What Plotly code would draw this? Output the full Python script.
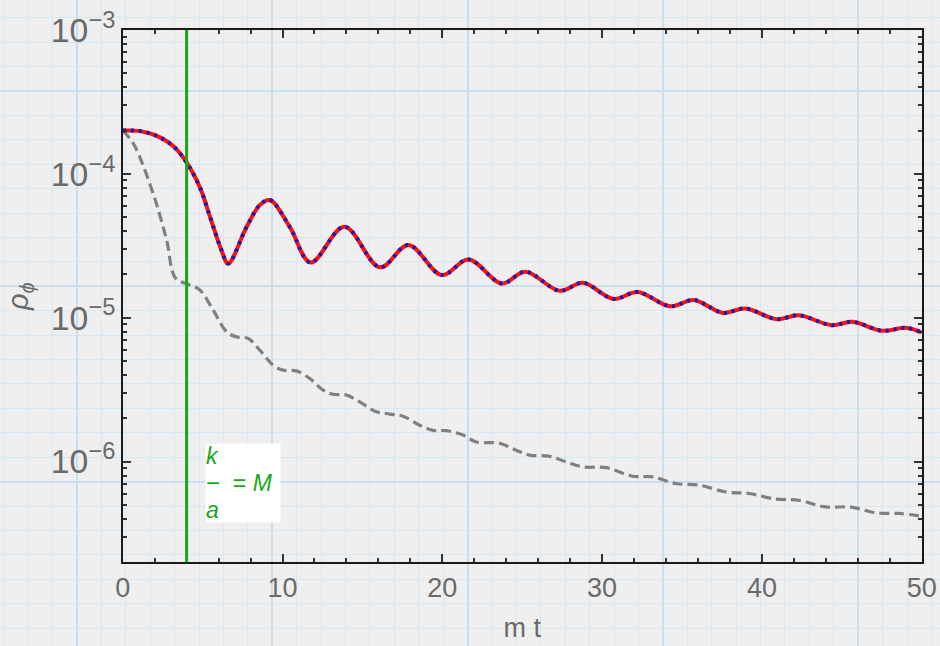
import plotly.graph_objects as go

# Energy density of the field vs. time (m t); full solution
t_full = [0.0, 1.0, 1.7, 2.3, 3.16, 4.0, 4.85, 5.45, 6.18, 6.6, 7.75, 8.58, 9.21,
          10.46, 11.76, 13.87, 16.1, 17.88, 19.97, 21.64, 23.73, 25.19, 27.34,
          28.8, 30.72, 32.22, 34.27, 35.73, 37.57, 38.97, 40.91, 42.31, 44.36,
          45.66, 47.54, 49.0, 50.0]
rho_full = [2.0e-4, 1.99e-4, 1.91e-4, 1.80e-4, 1.56e-4, 1.20e-4, 7.96e-5, 5.09e-5,
            2.95e-5, 2.38e-5, 4.27e-5, 6.07e-5, 6.58e-5, 4.27e-5, 2.42e-5, 4.29e-5,
            2.24e-5, 3.20e-5, 1.98e-5, 2.54e-5, 1.73e-5, 2.09e-5, 1.54e-5, 1.75e-5,
            1.35e-5, 1.51e-5, 1.20e-5, 1.33e-5, 1.08e-5, 1.16e-5, 9.78e-6, 1.04e-5,
            8.88e-6, 9.37e-6, 8.11e-6, 8.51e-6, 7.90e-6]

# Comparison curve (dashed gray)
t_cmp = [0.0, 0.66, 1.9, 2.75, 3.3, 4.2, 4.83, 5.66, 6.5, 7.12, 7.85, 8.58, 9.42,
         10.04, 10.87, 11.71, 12.54, 13.16, 14.0, 14.83, 15.87, 16.71, 17.54,
         18.58, 19.41, 20.25, 21.29, 22.12, 23.58, 24.62, 25.46, 26.71, 27.75,
         28.79, 30.25, 31.91, 33.16, 34.6, 36.1, 37.75, 39.2, 40.87, 42.3, 43.97,
         45.6, 47.1, 48.6, 50.0]
rho_cmp = [2.0e-4, 1.63e-4, 7.32e-5, 3.46e-5, 1.89e-5, 1.69e-5, 1.56e-5, 1.13e-5,
           7.98e-6, 7.36e-6, 7.18e-6, 5.95e-6, 4.68e-6, 4.32e-6, 4.27e-6, 3.78e-6,
           3.14e-6, 2.94e-6, 2.90e-6, 2.60e-6, 2.22e-6, 2.14e-6, 2.07e-6, 1.79e-6,
           1.65e-6, 1.64e-6, 1.53e-6, 1.37e-6, 1.34e-6, 1.20e-6, 1.11e-6, 1.09e-6,
           9.95e-7, 9.19e-7, 9.07e-7, 7.91e-7, 7.83e-7, 7.04e-7, 6.85e-7, 6.15e-7,
           6.00e-7, 5.48e-7, 5.39e-7, 4.84e-7, 4.83e-7, 4.40e-7, 4.36e-7, 4.17e-7]

K_OVER_A = 4.0          # time at which k/a = M
X_RANGE = [0, 50]
Y_RANGE_LOG = [-6.70, -3.0]

W, H = 940, 646
FONT = "Liberation Sans, Arial, sans-serif"
LABEL_GRAY = "#6a6a6a"
GREEN = "#17a817"

fig = go.Figure()

# empty trace so the full-figure graph-paper axes get drawn
fig.add_trace(go.Scatter(x=[], y=[], xaxis="x", yaxis="y",
                         hoverinfo="skip", showlegend=False))

# dashed gray comparison curve
fig.add_trace(go.Scatter(
    x=t_cmp, y=rho_cmp, mode="lines", line_shape="spline",
    line=dict(color="#808080", width=3.2, dash="10px,5px"),
    xaxis="x2", yaxis="y2", hoverinfo="skip", showlegend=False))

# full solution: red line with blue dots on top
fig.add_trace(go.Scatter(
    x=t_full, y=rho_full, mode="lines", line_shape="spline",
    line=dict(color="#ff1010", width=4),
    xaxis="x2", yaxis="y2", hoverinfo="skip", showlegend=False))
fig.add_trace(go.Scatter(
    x=t_full, y=rho_full, mode="lines", line_shape="spline",
    line=dict(color="#1a1ab0", width=4, dash="3px,5px"),
    xaxis="x2", yaxis="y2", hoverinfo="skip", showlegend=False))

# vertical marker at k/a = M
fig.add_shape(type="line", xref="x2", yref="y2 domain",
              x0=K_OVER_A, x1=K_OVER_A, y0=0, y1=1,
              line=dict(color=GREEN, width=3), layer="above")

# label box "k/a = M" written as a stacked fraction
big = '<span style="font-size:23px">'
bar = '<span style="font-size:24px">−</span>'
fig.add_annotation(xref="x2", yref="y2", x=K_OVER_A, y=Y_RANGE_LOG[0] + 0.55,
                   xanchor="left", yanchor="middle", xshift=18,
                   text=(big + "<i>k</i></span><br>"
                         + bar + big + "  = <i>M</i></span><br>"
                         + big + "<i>a</i></span>"),
                   align="left", valign="middle", width=74, height=78,
                   bgcolor="white", borderpad=0,
                   font=dict(family=FONT, size=21, color=GREEN),
                   showarrow=False)

# graph-paper backdrop: full-figure axes in pixel units
SQ = 195.3
paper_axis = dict(domain=[0, 1], showticklabels=False, zeroline=False,
                  ticks="", showline=False, fixedrange=True, automargin=False,
                  showgrid=True, gridcolor="#c9dfee", gridwidth=2, dtick=SQ)
fig.update_layout(
    xaxis=dict(paper_axis, range=[0, W], tick0=77,
               minor=dict(tick0=77, dtick=SQ / 8, showgrid=True,
                          gridcolor="#d8e8f2", gridwidth=1)),
    yaxis=dict(paper_axis, range=[H, 0], tick0=91,
               minor=dict(tick0=91, dtick=SQ / 8, showgrid=True,
                          gridcolor="#d8e8f2", gridwidth=1)),
)

frame = dict(showline=True, linecolor="#1a1a1a", linewidth=2, mirror="allticks",
             ticks="inside", ticklen=8, tickwidth=1.5, tickcolor="#333333",
             showgrid=False, zeroline=False, automargin=False,
             tickfont=dict(family=FONT, size=27, color=LABEL_GRAY))

fig.update_layout(
    xaxis2=dict(frame, domain=[122.7 / W, 921.7 / W], anchor="y2",
                range=X_RANGE, tick0=0, dtick=10,
                minor=dict(dtick=2, ticks="inside", ticklen=4, tickcolor="#333333"),
                title=dict(text="m t", standoff=16,
                           font=dict(family=FONT, size=27, color=LABEL_GRAY))),
    yaxis2=dict(frame, domain=[1 - 562.3 / H, 1 - 30 / H], anchor="x2",
                type="log", range=Y_RANGE_LOG, tick0=0, dtick=1,
                exponentformat="power",
                minor=dict(dtick="D1", ticks="inside", ticklen=4, tickcolor="#333333"),
                title=dict(text="<i>ρ</i><sub><i>ϕ</i></sub>", standoff=14,
                           font=dict(family=FONT, size=29, color=LABEL_GRAY))),
    width=W, height=H,
    margin=dict(l=0, r=0, t=0, b=0, pad=0, autoexpand=False),
    paper_bgcolor="#efefef",
    plot_bgcolor="rgba(0,0,0,0)",
    showlegend=False,
)

fig.write_html("out.html", config={"displayModeBar": False})
